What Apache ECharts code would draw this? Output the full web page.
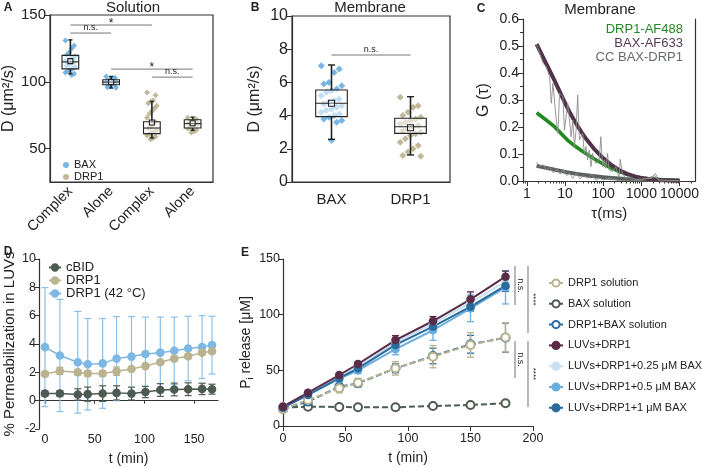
<!DOCTYPE html>
<html>
<head>
<meta charset="utf-8">
<script src="https://cdn.jsdelivr.net/npm/echarts@6/dist/echarts.min.js"></script>
<style>html,body{margin:0;padding:0;background:#fff}#main{width:702px;height:467px}</style>
</head>
<body>
<div id="main"></div>
<script>
// ---------- A : diffusion in solution ----------
var aCats = ['Complex', 'Alone', 'Complex', 'Alone'];
// [min, q1, median, q3, max, mean]
var aBoxes = [
  [106, 109.7, 114.9, 119.8, 131.4, 115.5],
  [95.3, 97.8, 99.8, 101.5, 104, 99.8],
  [58, 61.2, 65.4, 70.1, 85.3, 69.5],
  [63.7, 65.4, 68.7, 71.6, 73.6, 69]
];
var aBaxComplex = [131, 127, 125, 122, 120, 119, 118, 117, 116, 115.5, 115, 114, 113, 112, 111, 110, 109, 108, 107, 106, 105];
var aBaxAlone = [104, 103, 102.5, 101.5, 101, 100.5, 100, 100, 99.5, 99, 98.5, 98, 97, 96, 95.5];
var aDrpComplex = [92, 90, 86, 85, 84, 82, 80, 78, 76, 73, 70, 68, 66, 65, 64, 63, 62, 61, 60, 59, 58, 57];
var aDrpAlone = [73, 72, 71, 70, 69.5, 68.5, 68, 67, 66, 65, 64, 63, 62];
// [from category, to category, y level, label]
var aSig = [[0, 2, 142.5, '*'], [0, 1, 136.5, 'n.s.'], [1, 3, 109.5, '*'], [2, 3, 103.5, 'n.s.']];

// ---------- B : diffusion on membrane ----------
var bCats = ['BAX', 'DRP1'];
var bBoxes = [
  [2.57, 3.94, 4.74, 5.54, 7.05, 4.74],
  [1.63, 2.93, 3.33, 3.84, 5.14, 3.27]
];
var bBax = [7.0, 6.8, 6.6, 6.0, 5.9, 5.8, 5.6, 5.5, 5.4, 5.2, 5.0, 4.9, 4.8, 4.7, 4.6, 4.5, 4.4, 4.3, 4.2, 4.1, 4.0, 3.9, 3.8, 3.7, 3.6, 2.5];
var bDrp = [5.1, 4.6, 4.5, 4.2, 4.0, 3.9, 3.8, 3.7, 3.6, 3.5, 3.4, 3.3, 3.2, 3.1, 3.0, 2.9, 2.8, 2.6, 2.4, 2.2, 2.0, 1.8, 1.6, 1.55];
var bSig = [[0, 1, 7.65, 'n.s.']];

// ---------- C : FCCS curves ----------
var cTauTicks = [1, 10, 100, 1000, 10000];
var cFitTau = [1.8, 5, 13, 35, 100, 260, 700, 1900, 10000];
var cFitBax = [0.507, 0.38, 0.257, 0.158, 0.084, 0.041, 0.016, 0.006, 0.001];
var cFitDrp = [0.253, 0.204, 0.146, 0.102, 0.063, 0.035, 0.016, 0.007, 0.002];
var cFitCC = [0.056, 0.043, 0.031, 0.021, 0.014, 0.009, 0.006, 0.004, 0.001];
var cRawTau = [1.78, 2.18, 2.66, 3.24, 3.96, 4.37, 4.83, 5.9, 6.51, 7.2, 8.8, 9.7, 11.8, 13.1, 14.5, 16, 17.7, 19.5, 21.5, 23.8, 29, 32, 35.5, 39, 43, 48, 53, 58, 65, 79, 87, 96, 106, 117, 130, 143, 175, 213, 260, 280, 318, 388, 473, 705, 1910, 2330, 2850, 9420];
var cRawG = [0.507, 0.473, 0.436, 0.423, 0.386, 0.288, 0.362, 0.226, 0.177, 0.325, 0.312, 0.189, 0.288, 0.226, 0.164, 0.226, 0.127, 0.189, 0.319, 0.152, 0.177, 0.102, 0.127, 0.078, 0.115, 0.053, 0.102, 0.078, 0.065, 0.078, 0.164, 0.053, 0.078, 0.047, 0.102, 0.041, 0.035, 0.053, 0.016, 0.08, 0.028, 0.01, 0.016, 0.006, 0.01, 0.028, 0.004, 0.001];
var cRawCCTau = [1.8, 2.2, 2.7, 3.3, 4, 5, 6, 7.5, 9, 11, 13, 16, 20, 25, 30, 40, 50, 65, 80, 100, 150, 250, 400, 1000, 2200, 3000, 10000];
var cRawCC = [0.07, 0.055, 0.06, 0.04, 0.05, 0.03, 0.045, 0.025, 0.04, 0.02, 0.03, 0.01, 0.03, 0.008, 0.02, 0.012, 0.025, 0.003, 0.012, 0.004, 0.01, 0.002, 0, 0.002, 0.02, 0, 0];

// ---------- D : permeabilization ----------
var dTime = [0, 15, 33, 43, 58, 72, 87, 101, 116, 130, 144, 158, 168];
var dCbid = [0.50, 0.51, 0.44, 0.46, 0.50, 0.55, 0.50, 0.61, 0.75, 0.79, 0.81, 0.83, 0.81];
var dCbidSd = [0.18, 0.2, 0.4, 0.5, 0.55, 0.5, 0.45, 0.4, 0.45, 0.45, 0.45, 0.4, 0.35];
var dDrp1 = [1.88, 2.10, 2.0, 1.92, 1.92, 2.08, 2.24, 2.44, 2.71, 2.97, 3.13, 3.39, 3.49];
var dDrp1Sd = [0.15, 0.25, 0.2, 0.2, 0.2, 0.3, 0.15, 0.15, 0.15, 0.15, 0.15, 0.15, 0.15];
var dDrp142 = [3.78, 3.19, 2.71, 2.57, 2.63, 2.97, 3.11, 3.29, 3.39, 3.52, 3.68, 3.78, 3.92];
var dDrp142Sd = [4.2, 3.96, 3.59, 3.23, 3.17, 2.97, 2.83, 2.61, 2.51, 2.38, 2.28, 2.22, 2.04];

// ---------- E : Pi release ----------
var eTime = [0, 20, 45, 60, 90, 120, 150, 178];
var eDrpSol = [15, 23.4, 33.8, 38.9, 51.8, 62.3, 72.8, 79.6];
var eDrpSolSd = [1.5, 2, 4, 4, 6, 10, 11, 13];
var eBaxSol = [16.5, 17.4, 17.1, 16.8, 16.8, 18, 18.9, 20.4];
var eBaxSolSd = [1, 1, 1, 1, 1, 1, 1, 1.5];
var eMixSol = [15.3, 21.9, 35.3, 38.3, 51.8, 62.9, 73.4, 79.3];
var eMixSolSd = [1.5, 2, 3, 3, 4, 7, 8, 13];
var eLuv = [17.4, 29.9, 45.8, 55.7, 77.2, 94.3, 113.8, 134.1];
var eLuvSd = [1.5, 1.5, 1.5, 2, 4, 4, 6.7, 5];
var eLuv025 = [18, 29.5, 44.5, 53.5, 75, 92, 110.8, 129.6];
var eLuv025Sd = [1.5, 1.5, 2, 3, 5, 6, 8, 9];
var eLuv05 = [16.5, 28, 42.5, 50, 69, 86, 105.7, 124.6];
var eLuv05Sd = [1.5, 2, 3, 3, 5, 9, 12, 15];
var eLuv1 = [16.5, 28, 43, 51.8, 72.8, 89.2, 107.2, 126];
var eLuv1Sd = [1.5, 1.5, 2, 2, 3, 4, 4, 5];
// [y top, y bottom, label, outer bracket?]
var eSig = [[143.8, 108.7, 'n.s.', 0], [143.8, 83.6, '****', 1], [76.4, 43.1, 'n.s.', 0], [76.4, 17.1, '****', 1]];

var FONT = 'Liberation Sans, Arial, sans-serif';
var INK = '#222';
var AX = '#333';
var BLUE = '#6aaee0', TAN = '#b9b38f', DARK = '#4d5b53';

var chart = echarts.init(document.getElementById('main'));

function jitter(groups, spread) {
  var pts = [];
  groups.forEach(function (g) {
    g[1].forEach(function (v, k) {
      var off = (((k * 7) % 9) - 4) / 4 * spread;
      pts.push([g[0] + off, v]);
    });
  });
  return pts;
}

function boxSeries(boxes, xi, yi, wFrac, capFrac, meanSize) {
  return {
    type: 'custom', xAxisIndex: xi, yAxisIndex: yi, z: 5, silent: true,
    data: boxes.map(function (b, i) { return [i].concat(b); }),
    renderItem: function (params, api) {
      var i = api.value(0);
      var half = api.size([wFrac, 0])[0] / 2;
      var cap = api.size([capFrac, 0])[0] / 2;
      var pMin = api.coord([i, api.value(1)]), pQ1 = api.coord([i, api.value(2)]);
      var pMed = api.coord([i, api.value(3)]), pQ3 = api.coord([i, api.value(4)]);
      var pMax = api.coord([i, api.value(5)]), pMean = api.coord([i, api.value(6)]);
      var x = pMed[0];
      function ln(x1, y1, x2, y2, w) {
        return { type: 'line', shape: { x1: x1, y1: y1, x2: x2, y2: y2 }, style: { stroke: INK, lineWidth: w } };
      }
      return { type: 'group', children: [
        ln(x, pMax[1], x, pQ3[1], 1.6),
        ln(x, pQ1[1], x, pMin[1], 1.6),
        ln(x - cap, pMax[1], x + cap, pMax[1], 1.4),
        ln(x - cap, pMin[1], x + cap, pMin[1], 1.4),
        { type: 'rect', shape: { x: x - half, y: pQ3[1], width: half * 2, height: pQ1[1] - pQ3[1] },
          style: { stroke: INK, lineWidth: 1.1, fill: 'rgba(255,255,255,0.55)' } },
        ln(x - half, pMed[1], x + half, pMed[1], 1.1),
        { type: 'rect', shape: { x: x - meanSize / 2, y: pMean[1] - meanSize / 2, width: meanSize, height: meanSize },
          style: { stroke: INK, lineWidth: 1.1, fill: 'rgba(255,255,255,0.4)' } }
      ]};
    }
  };
}

function sigSeries(sig, xi, yi, smallFont) {
  return {
    type: 'custom', xAxisIndex: xi, yAxisIndex: yi, z: 6, silent: true,
    data: sig.map(function (s) { return [s[0], s[1], s[2]]; }),
    renderItem: function (params, api) {
      var a = api.coord([api.value(0), api.value(2)]);
      var b = api.coord([api.value(1), api.value(2)]);
      var label = sig[params.dataIndex][3];
      var star = label.indexOf('*') >= 0;
      return { type: 'group', children: [
        { type: 'line', shape: { x1: a[0], y1: a[1], x2: b[0], y2: b[1] }, style: { stroke: '#777', lineWidth: 1 } },
        { type: 'text', x: (a[0] + b[0]) / 2, y: a[1] + (star ? 5 : -1),
          style: { text: label, align: 'center', verticalAlign: 'bottom', fill: INK,
            fontSize: star ? 12 : smallFont, fontFamily: FONT } }
      ]};
    }
  };
}

function errBars(xs, means, sds, color, xi, yi, cap, lw) {
  return {
    type: 'custom', xAxisIndex: xi, yAxisIndex: yi, silent: true, z: 1,
    data: xs.map(function (x, i) { return [x, means[i] - sds[i], means[i] + sds[i]]; }),
    renderItem: function (params, api) {
      var lo = api.coord([api.value(0), api.value(1)]);
      var hi = api.coord([api.value(0), api.value(2)]);
      function ln(x1, y1, x2, y2) {
        return { type: 'line', shape: { x1: x1, y1: y1, x2: x2, y2: y2 }, style: { stroke: color, lineWidth: lw } };
      }
      return { type: 'group', children: [
        ln(lo[0], lo[1], hi[0], hi[1]),
        ln(lo[0] - cap, lo[1], lo[0] + cap, lo[1]),
        ln(hi[0] - cap, hi[1], hi[0] + cap, hi[1])
      ]};
    }
  };
}

function pairs(xs, ys) { return xs.map(function (x, i) { return [x, ys[i]]; }); }
function logPairs(ts, ys) { return ts.map(function (t, i) { return [Math.log10(t), ys[i]]; }); }

function tsLine(name, xs, ys, color, xi, yi, sym, size, lw, dashed) {
  return {
    type: 'line', name: name, xAxisIndex: xi, yAxisIndex: yi, z: 3,
    data: pairs(xs, ys), symbol: sym, symbolSize: size,
    lineStyle: { color: color, width: lw, type: dashed ? [6, 3] : 'solid' },
    itemStyle: { color: color, borderColor: color, borderWidth: 1.6 },
    emphasis: { disabled: true }
  };
}

function fitLine(ts, ys, color, w) {
  return { type: 'line', xAxisIndex: 4, yAxisIndex: 2, data: logPairs(ts, ys), smooth: 0.3,
    showSymbol: false, lineStyle: { color: color, width: w }, z: 3, silent: true };
}

function valueAxisBase(extra) {
  var base = {
    type: 'value', splitLine: { show: false },
    axisLine: { show: true, onZero: false, lineStyle: { color: AX, width: 1.2 } },
    axisTick: { show: true, length: 5, lineStyle: { color: AX } },
    axisLabel: { color: INK, fontFamily: FONT, fontSize: 13 },
    nameTextStyle: { color: INK, fontFamily: FONT, fontSize: 14 },
    nameLocation: 'middle'
  };
  return echarts.util.merge(base, extra, true);
}

var minorTau = [];
[0.1, 1, 10, 100, 1000, 10000].forEach(function (d) {
  for (var k = 2; k <= 9; k++) {
    var v = Math.log10(k * d);
    if (v > -0.1 && v < 4.42) minorTau.push(v);
  }
});

var legendNames = { aBAX: 'BAX', aDRP1: 'DRP1' };

var option = {
  animation: false,
  backgroundColor: '#fff',
  textStyle: { fontFamily: FONT },
  grid: [
    { left: 50, top: 15, width: 163, height: 167, show: true, borderColor: AX, borderWidth: 1.2 },
    { left: 292, top: 16, width: 158, height: 166, show: true, borderColor: AX, borderWidth: 1.2 },
    { left: 523, top: 19, width: 174, height: 162 },
    { left: 39, top: 259, width: 179, height: 202 },
    { left: 283, top: 259, width: 250, height: 167 }
  ],
  xAxis: [
    { type: 'category', gridIndex: 0, data: aCats,
      axisLine: { lineStyle: { color: AX, width: 1.2 } },
      axisTick: { alignWithLabel: true, length: 5, lineStyle: { color: AX } },
      axisLabel: { rotate: 45, interval: 0, fontSize: 14.5, color: INK, fontFamily: FONT, margin: 7 } },
    { type: 'value', gridIndex: 0, min: -0.5, max: 3.5, show: false },
    { type: 'category', gridIndex: 1, data: bCats,
      axisLine: { lineStyle: { color: AX, width: 1.2 } },
      axisTick: { alignWithLabel: true, length: 5, lineStyle: { color: AX } },
      axisLabel: { interval: 0, fontSize: 15, color: INK, fontFamily: FONT, margin: 10 } },
    { type: 'value', gridIndex: 1, min: -0.5, max: 1.5, show: false },
    valueAxisBase({ gridIndex: 2, position: 'bottom', min: -0.1, max: 4.42, name: 'τ(ms)', nameGap: 25,
      nameTextStyle: { fontSize: 15 },
      axisTick: { customValues: cTauTicks.map(Math.log10), length: 5 },
      axisLabel: { customValues: cTauTicks.map(Math.log10), fontSize: 14, margin: 6,
        formatter: function (v) { return String(Math.round(Math.pow(10, v))); } } }),
    valueAxisBase({ gridIndex: 2, position: 'bottom', min: -0.1, max: 4.42,
      axisLine: { show: false }, axisLabel: { show: false },
      axisTick: { customValues: minorTau, length: 2.5 } }),
    valueAxisBase({ gridIndex: 3, min: -6, max: 174, name: 't (min)', nameGap: 23,
      axisLine: { onZero: true },
      axisTick: { customValues: [0, 50, 100, 150], length: 3 },
      axisLabel: { customValues: [0, 50, 100, 150], fontSize: 12.5, margin: 4 } }),
    valueAxisBase({ gridIndex: 4, min: 0, max: 200, interval: 50, name: 't (min)', nameGap: 25,
      axisLabel: { fontSize: 12.5, margin: 6 } })
  ],
  yAxis: [
    valueAxisBase({ gridIndex: 0, min: 25, max: 150, name: 'D (μm²/s)', nameGap: 33,
      nameTextStyle: { fontSize: 16 },
      axisTick: { customValues: [50, 100, 150] },
      axisLabel: { customValues: [50, 100, 150], fontSize: 15, margin: 4 } }),
    valueAxisBase({ gridIndex: 1, min: 0, max: 10, interval: 2, name: 'D (μm²/s)', nameGap: 29,
      nameTextStyle: { fontSize: 16 },
      axisLabel: { fontSize: 16, margin: 4 } }),
    valueAxisBase({ gridIndex: 2, position: 'left', min: 0, max: 0.6, interval: 0.1, name: 'G (τ)', nameGap: 31,
      nameTextStyle: { fontSize: 16 },
      minorTick: { show: true, splitNumber: 2, length: 3, lineStyle: { color: AX } },
      axisLabel: { fontSize: 14, margin: 4, formatter: function (v) { return v.toFixed(1); } } }),
    valueAxisBase({ gridIndex: 2, min: 0, max: 0.6, position: 'right',
      axisTick: { show: false }, axisLabel: { show: false } }),
    valueAxisBase({ gridIndex: 3, min: -2, max: 10, interval: 2, name: '% Permeabilization in LUVs', nameGap: 22,
      nameTextStyle: { fontSize: 15 },
      axisTick: { length: 4 },
      axisLabel: { fontSize: 12.5, margin: 3 } }),
    valueAxisBase({ gridIndex: 4, min: 0, max: 150, interval: 50, name: 'P{s|i} release [μM]', nameGap: 28,
      nameTextStyle: { fontSize: 14, rich: { s: { fontSize: 9, padding: [8, 0, 0, 0] } } },
      axisLabel: { fontSize: 12.5, margin: 3 } })
  ],
  legend: [
    { orient: 'vertical', left: 58, top: 154, itemWidth: 6, itemHeight: 6, itemGap: 0, selectedMode: false,
      icon: 'circle', data: ['aBAX', 'aDRP1'],
      formatter: function (n) { return legendNames[n]; },
      textStyle: { fontSize: 11, lineHeight: 12, color: INK, fontFamily: FONT } },
    { orient: 'vertical', left: 43, top: 256, itemWidth: 12, itemHeight: 8, itemGap: 0, selectedMode: false,
      data: ['cBID', 'DRP1', 'DRP1 (42 °C)'],
      textStyle: { fontSize: 13, lineHeight: 11.7, color: INK, fontFamily: FONT } },
    { orient: 'vertical', left: 543, top: 271.5, itemWidth: 14, itemHeight: 9, itemGap: 7.8, selectedMode: false,
      data: ['DRP1 solution', 'BAX solution', 'DRP1+BAX solution', 'LUVs+DRP1',
        'LUVs+DRP1+0.25 μM BAX', 'LUVs+DRP1+0.5 μM BAX', 'LUVs+DRP1+1 μM BAX'],
      textStyle: { fontSize: 11, lineHeight: 13, color: INK, fontFamily: FONT } }
  ],
  graphic: [],
  series: []
};

// panel letters and titles
var texts = [
  ['A', 8, 8, 12, 'bold', 'center', INK], ['B', 255, 8, 12, 'bold', 'center', INK], ['C', 481, 9, 12, 'bold', 'center', INK],
  ['D', 8, 252, 12, 'bold', 'center', INK], ['E', 245, 253, 12, 'bold', 'center', INK],
  ['Solution', 133, 8, 15, 'normal', 'center', INK], ['Membrane', 370, 8, 15, 'normal', 'center', INK],
  ['Membrane', 600, 10, 15, 'normal', 'center', INK],
  ['DRP1-AF488', 683, 29, 13, 'normal', 'right', '#238a23'],
  ['BAX-AF633', 683, 43, 13, 'normal', 'right', '#563a50'],
  ['CC BAX-DRP1', 683, 57, 13, 'normal', 'right', '#666b67']
];
texts.forEach(function (t) {
  option.graphic.push({ type: 'text', x: t[1], y: t[2], silent: true,
    style: { text: t[0], fontSize: t[3], fontWeight: t[4], align: t[5], verticalAlign: 'middle', fill: t[6], fontFamily: FONT } });
});

var S = option.series;

// D first so its names own the legend lookup
S.push(errBars(dTime, dDrp142, dDrp142Sd, '#8cc0e8', 6, 4, 3.5, 1.2));
S.push(errBars(dTime, dDrp1, dDrp1Sd, TAN, 6, 4, 3.5, 1.2));
S.push(errBars(dTime, dCbid, dCbidSd, DARK, 6, 4, 3.5, 1.2));
S.push(tsLine('DRP1 (42 °C)', dTime, dDrp142, '#7db8e4', 6, 4, 'circle', 7, 1.5));
S.push(tsLine('DRP1', dTime, dDrp1, TAN, 6, 4, 'circle', 7, 1.5));
S.push(tsLine('cBID', dTime, dCbid, DARK, 6, 4, 'circle', 7, 1.5));

// A
S.push({ type: 'scatter', name: 'aBAX', xAxisIndex: 1, yAxisIndex: 0, symbol: 'diamond', symbolSize: 6, z: 2,
  itemStyle: { color: BLUE, opacity: 0.9 }, silent: true,
  data: jitter([[0, aBaxComplex], [1, aBaxAlone]], 0.12) });
S.push({ type: 'scatter', name: 'aDRP1', xAxisIndex: 1, yAxisIndex: 0, symbol: 'diamond', symbolSize: 6, z: 2,
  itemStyle: { color: TAN, opacity: 0.9 }, silent: true,
  data: jitter([[2, aDrpComplex], [3, aDrpAlone]], 0.12) });
S.push(boxSeries(aBoxes, 1, 0, 0.41, 0.1, 5));
S.push(sigSeries(aSig, 1, 0, 9));

// B
S.push({ type: 'scatter', name: 'bBAX', xAxisIndex: 3, yAxisIndex: 1, symbol: 'diamond', symbolSize: 7, z: 2,
  itemStyle: { color: BLUE, opacity: 0.9 }, silent: true, data: jitter([[0, bBax]], 0.13) });
S.push({ type: 'scatter', name: 'bDRP1', xAxisIndex: 3, yAxisIndex: 1, symbol: 'diamond', symbolSize: 7, z: 2,
  itemStyle: { color: TAN, opacity: 0.9 }, silent: true, data: jitter([[1, bDrp]], 0.13) });
S.push(boxSeries(bBoxes, 3, 1, 0.4, 0.09, 6));
S.push(sigSeries(bSig, 3, 1, 9));

// C
S.push(fitLine(cFitTau, cFitCC, '#5d625e', 4));
S.push(fitLine(cFitTau, cFitDrp, '#238a23', 3.6));
S.push(fitLine(cFitTau, cFitBax, '#4f3348', 4));
S.push({ type: 'line', xAxisIndex: 4, yAxisIndex: 2, data: logPairs(cRawTau, cRawG), showSymbol: false,
  lineStyle: { color: '#8d8d8d', width: 0.9 }, z: 4, silent: true });
S.push({ type: 'line', xAxisIndex: 4, yAxisIndex: 2, data: logPairs(cRawCCTau, cRawCC), showSymbol: false,
  lineStyle: { color: '#8d8d8d', width: 0.9 }, z: 4, silent: true });

// E
S.push(errBars(eTime, eBaxSol, eBaxSolSd, DARK, 7, 5, 3.5, 1.3));
S.push(errBars(eTime, eMixSol, eMixSolSd, '#2b6ea3', 7, 5, 3.5, 1.3));
S.push(errBars(eTime, eDrpSol, eDrpSolSd, TAN, 7, 5, 3.5, 1.3));
S.push(errBars(eTime, eLuv05, eLuv05Sd, BLUE, 7, 5, 3.5, 1.3));
S.push(errBars(eTime, eLuv025, eLuv025Sd, '#c8e0f2', 7, 5, 3.5, 1.3));
S.push(errBars(eTime, eLuv1, eLuv1Sd, '#2a6b9c', 7, 5, 3.5, 1.3));
S.push(errBars(eTime, eLuv, eLuvSd, '#5b2c47', 7, 5, 3.5, 1.3));
S.push(tsLine('BAX solution', eTime, eBaxSol, DARK, 7, 5, 'emptyCircle', 8, 2, true));
S.push(tsLine('DRP1+BAX solution', eTime, eMixSol, '#2b6ea3', 7, 5, 'emptyCircle', 8, 2, true));
S.push(tsLine('DRP1 solution', eTime, eDrpSol, TAN, 7, 5, 'emptyCircle', 8, 2, true));
S.push(tsLine('LUVs+DRP1+0.5 μM BAX', eTime, eLuv05, BLUE, 7, 5, 'circle', 7, 2));
S.push(tsLine('LUVs+DRP1+0.25 μM BAX', eTime, eLuv025, '#c8e0f2', 7, 5, 'circle', 7, 2));
S.push(tsLine('LUVs+DRP1+1 μM BAX', eTime, eLuv1, '#2a6b9c', 7, 5, 'circle', 7, 2));
S.push(tsLine('LUVs+DRP1', eTime, eLuv, '#5b2c47', 7, 5, 'circle', 7, 2));

// E significance brackets, to the right of the last time point
S.push({
  type: 'custom', xAxisIndex: 7, yAxisIndex: 5, silent: true, z: 6,
  data: eSig.map(function (s) { return [200, s[0], s[1]]; }),
  renderItem: function (params, api) {
    var outer = eSig[params.dataIndex][3];
    var label = eSig[params.dataIndex][2];
    var top = api.coord([api.value(0), api.value(1)]);
    var bot = api.coord([api.value(0), api.value(2)]);
    var x = top[0] - 18 + outer * 13;
    var mid = (top[1] + bot[1]) / 2;
    return { type: 'group', children: [
      { type: 'line', shape: { x1: x, y1: top[1], x2: x, y2: bot[1] }, style: { stroke: '#888', lineWidth: 1.2 } },
      { type: 'text', x: x + 5, y: mid, rotation: -Math.PI / 2,
        style: { text: label, align: 'center', verticalAlign: 'middle', fontSize: label === 'n.s.' ? 9 : 8,
          fill: INK, fontFamily: FONT } }
    ]};
  }
});

chart.setOption(option);
</script>
</body>
</html>
